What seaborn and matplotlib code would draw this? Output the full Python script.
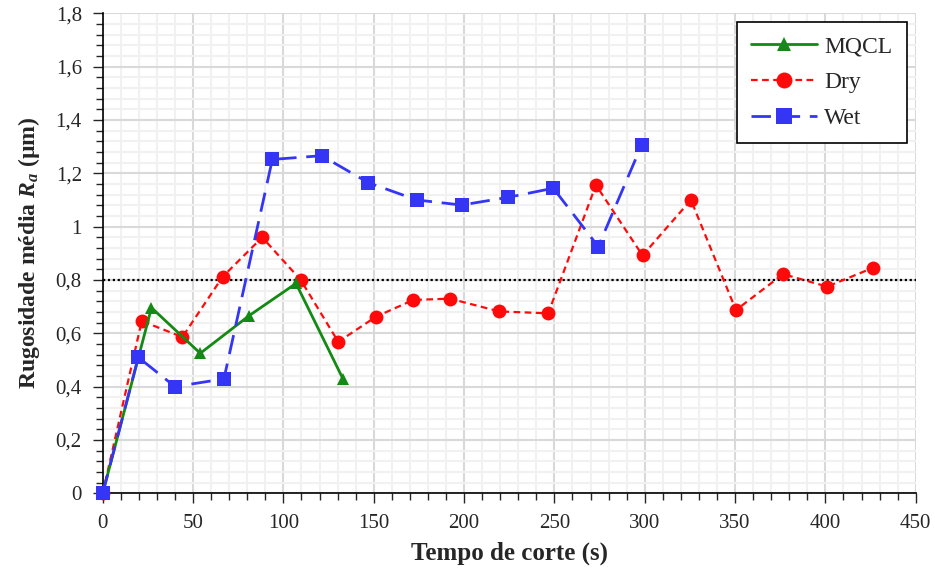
import matplotlib
matplotlib.use("Agg")
import matplotlib.pyplot as plt
import seaborn as sns
from matplotlib.ticker import MultipleLocator, FuncFormatter

# tempo de corte (s) e rugosidade Ra (um)
mqcl_t = [0, 27, 54, 81, 107, 133]
mqcl_ra = [0, 0.696, 0.525, 0.666, 0.787, 0.429]

dry_t = [0, 21.6, 44.1, 66.4, 88.3, 109.6, 130.4, 151.2, 171.9, 192.2,
         219.5, 246.6, 273, 298.8, 325.6, 350.5, 376.6, 401, 426.5]
dry_ra = [0, 0.646, 0.586, 0.812, 0.96, 0.80, 0.568, 0.662, 0.725, 0.73,
          0.682, 0.675, 1.156, 0.892, 1.10, 0.687, 0.822, 0.775, 0.846]

wet_t = [0, 19.7, 40, 67.1, 93.9, 121.2, 147, 173.8, 198.7, 224.5, 249.4, 274.3, 298.3]
wet_ra = [0, 0.51, 0.40, 0.429, 1.252, 1.266, 1.165, 1.10, 1.081, 1.11, 1.144, 0.925, 1.306]

limite = 0.8

sns.set_style("white")
plt.rcParams["font.family"] = ["Liberation Serif", "DejaVu Serif"]
plt.rcParams["mathtext.fontset"] = "custom"
plt.rcParams["mathtext.it"] = "Liberation Serif:italic:bold"
plt.rcParams["mathtext.rm"] = "Liberation Serif:bold"

fig = plt.figure(figsize=(9.35, 5.71), dpi=100)
ax = fig.add_axes([102.7 / 935, 1 - 493.3 / 571, (915.7 - 102.7) / 935, (493.3 - 13.3) / 571])

ax.axhline(limite, color="black", linestyle=(0, (1, 1.2)), linewidth=1.6, zorder=2)

sns.lineplot(x=mqcl_t, y=mqcl_ra, ax=ax, sort=False, color="#138a13", marker="^",
             markersize=9, markeredgewidth=0, linewidth=2, label="MQCL", zorder=4,
             clip_on=False)
sns.lineplot(x=dry_t, y=dry_ra, ax=ax, sort=False, color="#ff0a0a", marker="o",
             markersize=10, markeredgewidth=0, linewidth=1.6, linestyle=(0, (3, 2)),
             label="Dry", zorder=3, clip_on=False)
sns.lineplot(x=wet_t, y=wet_ra, ax=ax, sort=False, color="#3535f5", marker="s",
             markersize=10, markeredgewidth=0, linewidth=2, linestyle=(0, (7, 3.5)),
             label="Wet", zorder=5, clip_on=False)

ax.set_xlim(0, 450)
ax.set_ylim(0, 1.8)
ax.xaxis.set_major_locator(MultipleLocator(50))
ax.xaxis.set_minor_locator(MultipleLocator(10))
ax.yaxis.set_major_locator(MultipleLocator(0.2))
ax.yaxis.set_minor_locator(MultipleLocator(0.04))
ax.yaxis.set_major_formatter(FuncFormatter(lambda v, p: f"{v:.1f}".replace(".", ",").replace(",0", "")))

ax.grid(which="minor", color="#f1f1f1", linewidth=1.5, zorder=0)
ax.grid(which="major", color="#d9d9d9", linewidth=1.5, zorder=0)
ax.set_axisbelow(True)

for s in ["top", "right"]:
    ax.spines[s].set_visible(False)
for s in ["left", "bottom"]:
    ax.spines[s].set_color("black")
    ax.spines[s].set_linewidth(1.2)

ax.tick_params(which="major", direction="out", length=7, width=1, labelsize=15, pad=8)
ax.tick_params(which="minor", direction="out", length=5, width=1)
ax.tick_params(axis="x", which="both", bottom=True)
ax.tick_params(axis="y", which="both", left=True)

ax.set_xlabel("Tempo de corte (s)", fontsize=18, fontweight="bold", labelpad=6)
ax.set_ylabel("Rugosidade média $R_a$ (µm)", fontsize=17, fontweight="bold", labelpad=10)

leg = ax.legend(loc="upper right", bbox_to_anchor=(0.989, 0.982), borderaxespad=0,
                fontsize=17, frameon=True, fancybox=False, edgecolor="black",
                handlelength=2.8, labelspacing=0.6, borderpad=0.6, handletextpad=0.3,
                markerscale=1.15)
leg.get_frame().set_linewidth(1.2)
leg.get_frame().set_facecolor("white")
leg.get_frame().set_alpha(1)

fig.savefig("out.png", dpi=100)
